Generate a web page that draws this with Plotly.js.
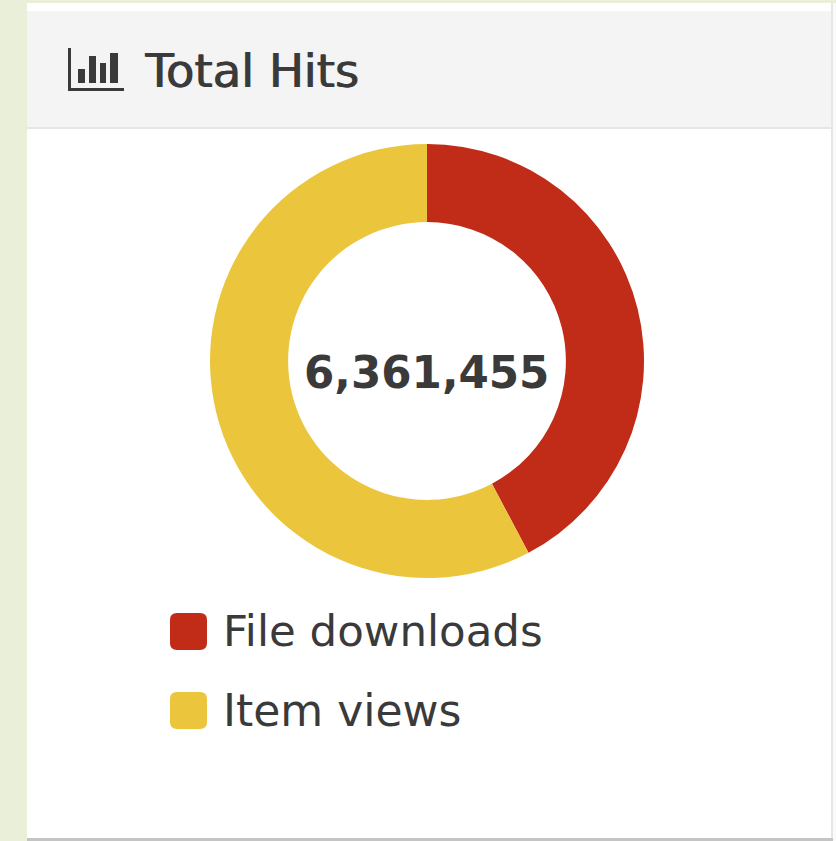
<!DOCTYPE html>
<html>
<head>
<meta charset="utf-8">
<script src="https://cdn.plot.ly/plotly-3.0.1.min.js"></script>
<style>html,body{margin:0;padding:0;background:#eaefd9;overflow:hidden}#chart{width:836px;height:841px}</style>
</head>
<body>
<div id="chart"></div>
<script>
// Hit counts by type, with the total shown in the middle of the ring
const categories = ['File downloads', 'Item views'];
const hitCounts = [2688000, 3673455];
const sliceColors = ['#c02c17', '#ebc63d'];
const totalLabel = '6,361,455';
const panelTitle = 'Total Hits';

const W = 836, H = 841;
const px = x => x / W;
const py = y => 1 - y / H;
const rect = (x0, y0, x1, y1, color, layer) => ({
  type: 'rect', xref: 'paper', yref: 'paper', layer: layer || 'below',
  x0: px(x0), x1: px(x1), y0: py(y0), y1: py(y1),
  fillcolor: color, line: {width: 0}
});
// Rounded legend swatch, written as an SVG path in paper coordinates
const swatch = (x, y, s, r, color) => {
  const X = v => px(v).toFixed(5), Y = v => py(v).toFixed(5);
  return {
    type: 'path', xref: 'paper', yref: 'paper', layer: 'below',
    path: `M${X(x + r)},${Y(y)} L${X(x + s - r)},${Y(y)} Q${X(x + s)},${Y(y)} ${X(x + s)},${Y(y + r)} ` +
          `L${X(x + s)},${Y(y + s - r)} Q${X(x + s)},${Y(y + s)} ${X(x + s - r)},${Y(y + s)} ` +
          `L${X(x + r)},${Y(y + s)} Q${X(x)},${Y(y + s)} ${X(x)},${Y(y + s - r)} ` +
          `L${X(x)},${Y(y + r)} Q${X(x)},${Y(y)} ${X(x + r)},${Y(y)} Z`,
    fillcolor: color, line: {width: 0}
  };
};
const ink = '#3a3a3a';

const shapes = [
  // light strip to the right of the card
  rect(832, 3, 836, 841, '#fafafa'),
  // card, bottom shadow and header band
  rect(27, 3, 833, 841, '#c4c4c4'),
  rect(27, 3, 831, 838, '#ffffff'),
  rect(27, 11, 831, 127, '#f4f4f4'),
  rect(27, 127, 831, 129, '#e6e6e6'),
  rect(831, 3, 833, 838, '#e6e6e6'),
  // bar-chart icon beside the heading
  rect(68, 48, 71, 91, ink),
  rect(68, 88, 124, 91, ink),
  rect(78, 69, 85, 83, ink),
  rect(89, 56, 96, 83, ink),
  rect(100, 63, 106, 83, ink),
  rect(110, 53, 118, 83, ink),
  // legend swatches
  swatch(170, 613, 37, 7, sliceColors[0]),
  swatch(170, 692, 37, 7, sliceColors[1])
];

const textAt = (x, y, text, size, anchor, weight, shadow) => ({
  xref: 'paper', yref: 'paper', x: px(x), y: py(y), text,
  xanchor: anchor, yanchor: 'middle', showarrow: false,
  font: {family: '"DejaVu Sans", sans-serif', size, color: ink, weight: weight || 400, shadow: shadow || 'none'}
});

const annotations = [
  textAt(142, 71, panelTitle, 46.5, 'left', 400, '1px 0 0 #3a3a3a'),
  textAt(426, 373, totalLabel, 43.6, 'center', 700),
  textAt(221, 631, categories[0], 43.5, 'left', 400),
  textAt(221, 710, categories[1], 44, 'left', 400)
];

const ring = {
  type: 'pie',
  labels: categories,
  values: hitCounts,
  sort: false,
  direction: 'clockwise',
  rotation: 0,
  hole: 0.64,
  textinfo: 'none',
  hoverinfo: 'label+value+percent',
  marker: {colors: sliceColors, line: {width: 0}},
  domain: {x: [px(210), px(644)], y: [py(578), py(144)]}
};

Plotly.newPlot('chart', [ring], {
  width: W, height: H,
  margin: {l: 0, r: 0, t: 0, b: 0},
  paper_bgcolor: '#eaefd9',
  showlegend: false,
  shapes, annotations
}, {displayModeBar: false, staticPlot: true});
</script>
</body>
</html>
